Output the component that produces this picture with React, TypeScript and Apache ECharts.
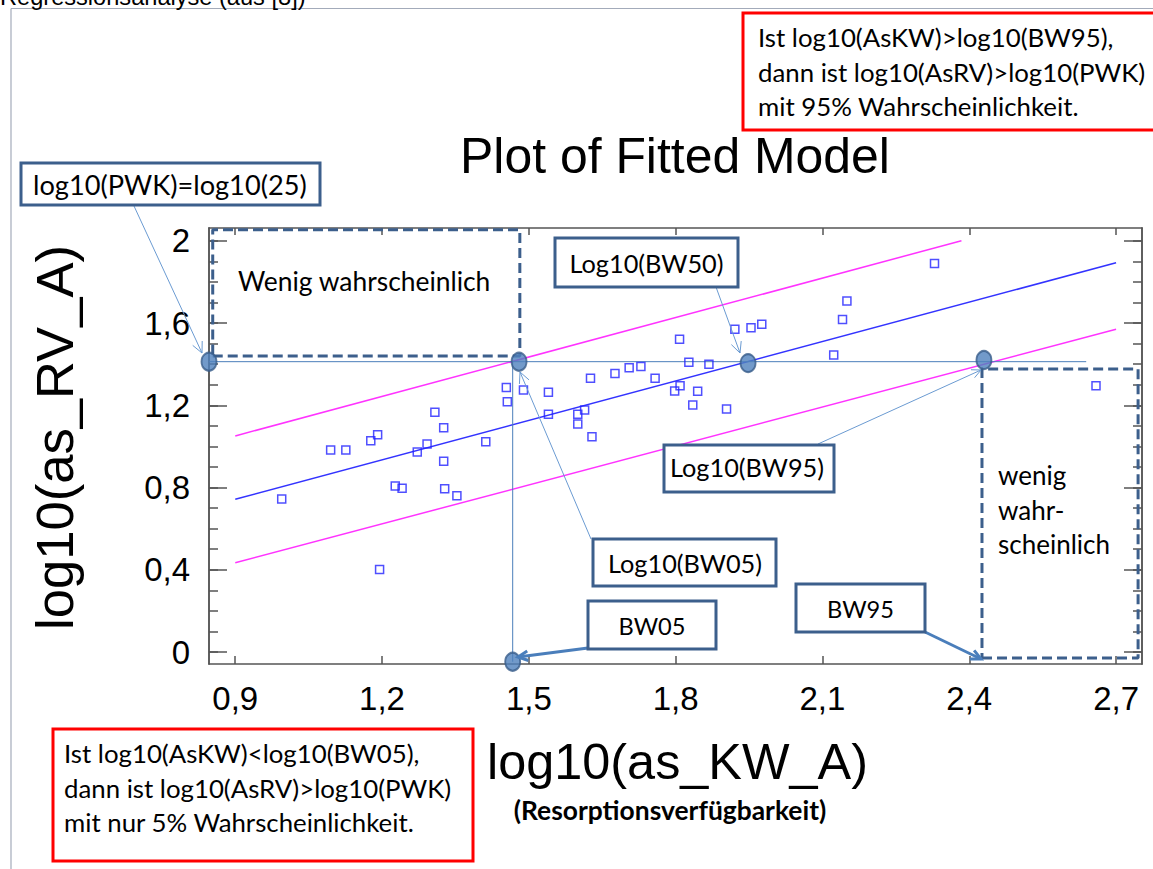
import React, { useEffect, useRef } from 'react';
import * as echarts from 'echarts';

// ---------- data ----------
const X_TICKS = [0.9, 1.2, 1.5, 1.8, 2.1, 2.4, 2.7];
const Y_MAJOR = [0, 0.4, 0.8, 1.2, 1.6, 2.0];
const Y_MINOR = [0, 0.1, 0.2, 0.3, 0.4, 0.5, 0.6, 0.7, 0.8, 0.9, 1.0, 1.1, 1.2, 1.3, 1.4, 1.5, 1.6, 1.7, 1.8, 1.9, 2.0];

const OBS_X = [0.995, 1.095, 1.126, 1.177, 1.191, 1.195, 1.227, 1.241, 1.272, 1.292, 1.308, 1.326, 1.326, 1.328, 1.353, 1.412,
  1.454, 1.489, 1.456, 1.54, 1.54, 1.6, 1.614, 1.6, 1.629, 1.626, 1.676, 1.705, 1.729, 1.758, 1.808, 1.827, 1.868, 1.809, 1.798,
  1.845, 1.835, 1.904, 1.921, 1.954, 1.976, 2.15, 2.141, 2.123, 2.329, 2.659];
const OBS_Y = [0.744, 0.982, 0.982, 1.028, 1.057, 0.402, 0.807, 0.796, 0.973, 1.012, 1.166, 1.091, 0.928, 0.794, 0.76, 1.023,
  1.286, 1.274, 1.217, 1.263, 1.156, 1.156, 1.177, 1.109, 1.047, 1.331, 1.354, 1.383, 1.388, 1.331, 1.521, 1.409, 1.399, 1.295, 1.269,
  1.268, 1.201, 1.182, 1.57, 1.577, 1.594, 1.707, 1.617, 1.445, 1.889, 1.295];

const FIT_X = [0.9, 2.7];
const FIT_Y = [0.743, 1.893];
const UPPER_X = [0.9, 2.384];
const UPPER_Y = [1.051, 2.0];
const LOWER_X = [0.9, 2.7];
const LOWER_Y = [0.434, 1.57];

const PWK_Y = 1.412; // log10(25)
const PWK_X = [0.8464, 2.639];
const BW05_VERT_X = 1.467;
const BW05_VERT_Y = [1.412, -0.047];

const KEY_X = [0.8464, 1.48, 1.948, 2.43, 1.467];
const KEY_Y = [1.412, 1.412, 1.405, 1.42, -0.047];

const UL_BOX_X = [0.854, 1.4816];
const UL_BOX_Y = [1.44, 2.053];
const LR_BOX_X = [2.426, 2.745];
const LR_BOX_Y = [-0.029, 1.376];

const X_MIN = 0.8464, X_MAX = 2.753, Y_MIN = -0.058, Y_MAX = 2.062;

// ---------- styles ----------
const ARIAL = '"Liberation Sans", Arial, sans-serif';
const CAL = 'Lato, "Noto Sans", sans-serif';
const FRAME = '#555555';
const BORDER = '#3c5f8c';
const THIN = '#6b9bd2';
const THICK = '#4a7ebb';

function fit(text: string, weight: string, family: string, target: number) {
  const c = document.createElement('canvas').getContext('2d');
  if (!c) return 20;
  c.font = `${weight} 100px ${family}`;
  const w = c.measureText(text).width || 1;
  return Math.round((100 * target / w) * 10) / 10;
}

function arrow(x1: number, y1: number, x2: number, y2: number, color: string, width: number, head: number) {
  const a = Math.atan2(y2 - y1, x2 - x1);
  const p1 = [x2 - head * Math.cos(a - 0.45), y2 - head * Math.sin(a - 0.45)];
  const p2 = [x2 - head * Math.cos(a + 0.45), y2 - head * Math.sin(a + 0.45)];
  return [
    { type: 'line', z: 90, shape: { x1, y1, x2, y2 }, style: { stroke: color, lineWidth: width } },
    { type: 'polyline', z: 90, shape: { points: [p1, [x2, y2], p2] }, style: { stroke: color, lineWidth: width, fill: null } },
  ];
}

function boxRect(x: number, y: number, w: number, h: number, stroke: string) {
  return { type: 'rect', z: 95, shape: { x, y, width: w, height: h }, style: { fill: '#ffffff', stroke, lineWidth: 3 } };
}

function txt(text: string, x: number, y: number, size: number, family: string, align: string, weight = 'normal', extra: any = {}) {
  return {
    type: 'text', z: 100, x, y, ...extra,
    style: { text, fontSize: size, fontFamily: family, fontWeight: weight, fill: '#000000', align, verticalAlign: 'middle' },
  };
}

function boxPath(xs: number[], ys: number[]) {
  return [[xs[0], ys[0]], [xs[1], ys[0]], [xs[1], ys[1]], [xs[0], ys[1]], [xs[0], ys[0]]];
}

const fmt = (v: number) => (Math.abs(v) < 1e-9 ? '0' : Number.isInteger(Math.round(v * 10) / 10) && Math.abs(v - Math.round(v)) < 1e-9 ? String(Math.round(v)) : v.toFixed(1).replace('.', ','));

export default function App() {
  const ref = useRef<HTMLDivElement>(null);
  useEffect(() => {
    if (!ref.current) return;
    const chart = echarts.init(ref.current, null, { renderer: 'svg' });

    const sTitle = fit('Plot of Fitted Model', 'normal', ARIAL, 430);
    const sXT = fit('log10(as_KW_A)', 'normal', ARIAL, 381);
    const sYT = fit('log10(as_RV_A)', 'normal', ARIAL, 385);
    const sTop = fit('Regressionsanalyse (aus [8])', 'normal', ARIAL, 305);
    const sRed = fit('dann ist log10(AsRV)>log10(PWK)', 'normal', CAL, 388);
    const sRes = fit('(Resorptionsverfügbarkeit)', '700', CAL, 312);
    const sPWK = fit('log10(PWK)=log10(25)', 'normal', CAL, 274);
    const sWenig = fit('Wenig wahrscheinlich', 'normal', CAL, 253);
    const sBW = fit('Log10(BW50)', 'normal', CAL, 154);
    const sBWs = fit('BW05', 'normal', CAL, 67);
    const sSch = fit('scheinlich', 'normal', CAL, 112);

    const graphic: any[] = [
      // page frame
      { type: 'line', z: 1, shape: { x1: 11, y1: 8.5, x2: 1153, y2: 8.5 }, style: { stroke: '#a3abba', lineWidth: 1.2 } },
      { type: 'line', z: 1, shape: { x1: 11, y1: 8.5, x2: 11, y2: 869 }, style: { stroke: '#a3abba', lineWidth: 1.2 } },
      txt('Regressionsanalyse (aus [8])', 0, -3, sTop, ARIAL, 'left'),
      txt('Plot of Fitted Model', 675, 156, sTitle, ARIAL, 'center'),
      txt('log10(as_KW_A)', 677.5, 761, sXT, ARIAL, 'center'),
      txt('log10(as_RV_A)', 54, 437.5, sYT, ARIAL, 'center', 'normal', { rotation: Math.PI / 2 }),
      txt('(Resorptionsverfügbarkeit)', 670, 810, sRes, CAL, 'center', '700'),
      // red boxes
      boxRect(743, 13, 430, 117, '#ff0000'),
      txt('Ist log10(AsKW)>log10(BW95),', 758, 37, sRed, CAL, 'left'),
      txt('dann ist log10(AsRV)>log10(PWK)', 758, 71.5, sRed, CAL, 'left'),
      txt('mit 95% Wahrscheinlichkeit.', 758, 105.5, sRed, CAL, 'left'),
      boxRect(53, 729, 420, 132, '#ff0000'),
      txt('Ist log10(AsKW)<log10(BW05),', 64, 753, sRed, CAL, 'left'),
      txt('dann ist log10(AsRV)>log10(PWK)', 64, 787.5, sRed, CAL, 'left'),
      txt('mit nur 5% Wahrscheinlichkeit.', 64, 822, sRed, CAL, 'left'),
      // connectors
      ...arrow(134, 206, 202, 353, THIN, 1, 12),
      ...arrow(716, 287, 740, 353, THIN, 1, 12),
      ...arrow(818, 444, 981, 370, THIN, 1, 10),
      ...arrow(591, 539, 520, 372, THIN, 1, 12),
      ...arrow(588, 648, 518, 657, THICK, 3, 11),
      ...arrow(925, 632, 981, 659, THICK, 3, 11),
      // annotation boxes
      boxRect(21, 163, 299, 42, BORDER),
      txt('log10(PWK)=log10(25)', 33, 184, sPWK, CAL, 'left'),
      boxRect(555, 238, 183, 49, BORDER),
      txt('Log10(BW50)', 646.5, 262.5, sBW, CAL, 'center'),
      boxRect(664, 445, 170, 47, BORDER),
      txt('Log10(BW95)', 747, 467, sBW, CAL, 'center'),
      boxRect(593, 539, 183, 47, BORDER),
      txt('Log10(BW05)', 685, 563, sBW, CAL, 'center'),
      boxRect(588, 601, 128, 48, BORDER),
      txt('BW05', 652, 626, sBWs, CAL, 'center'),
      boxRect(796, 584, 129, 48, BORDER),
      txt('BW95', 860.5, 609, sBWs, CAL, 'center'),
      // region labels
      txt('Wenig wahrscheinlich', 238, 281, sWenig, CAL, 'left'),
      txt('wenig', 998, 475, sSch, CAL, 'left'),
      txt('wahr-', 998, 510, sSch, CAL, 'left'),
      txt('scheinlich', 998, 543.5, sSch, CAL, 'left'),
    ];

    const axisCommon = { type: 'value', min: X_MIN, max: X_MAX, splitLine: { show: false } };
    const yCommon = { type: 'value', min: Y_MIN, max: Y_MAX, splitLine: { show: false } };
    const line = { show: true, onZero: false, lineStyle: { color: FRAME, width: 1.5 } };

    const option: any = {
      animation: false,
      backgroundColor: '#ffffff',
      grid: { left: 209, right: 11, top: 228, bottom: 205, containLabel: false },
      xAxis: [
        {
          ...axisCommon, position: 'bottom', axisLine: line,
          axisTick: { show: true, inside: true, length: 8, customValues: X_TICKS, lineStyle: { color: FRAME, width: 1.5 } },
          axisLabel: { show: true, customValues: X_TICKS, formatter: (v: number) => fmt(v), fontSize: 33, fontFamily: ARIAL, color: '#000', margin: 18 },
        },
        {
          ...axisCommon, position: 'top', axisLine: line,
          axisTick: { show: true, inside: true, length: 7, customValues: X_TICKS, lineStyle: { color: FRAME, width: 1.5 } },
          axisLabel: { show: false },
        },
      ],
      yAxis: [
        {
          ...yCommon, position: 'left', axisLine: line,
          axisTick: { show: true, inside: true, length: 18, customValues: Y_MAJOR, lineStyle: { color: FRAME, width: 1.5 } },
          axisLabel: { show: true, customValues: Y_MAJOR, formatter: (v: number) => fmt(v), fontSize: 33, fontFamily: ARIAL, color: '#000', margin: 19 },
        },
        {
          ...yCommon, position: 'left', axisLine: line,
          axisTick: { show: true, inside: true, length: 9, customValues: Y_MINOR, lineStyle: { color: FRAME, width: 1.5 } },
          axisLabel: { show: false },
        },
        {
          ...yCommon, position: 'right', axisLine: line,
          axisTick: { show: true, inside: true, length: 18, customValues: Y_MAJOR, lineStyle: { color: FRAME, width: 1.5 } },
          axisLabel: { show: false },
        },
        {
          ...yCommon, position: 'right', axisLine: line,
          axisTick: { show: true, inside: true, length: 9, customValues: Y_MINOR, lineStyle: { color: FRAME, width: 1.5 } },
          axisLabel: { show: false },
        },
      ],
      series: [
        {
          name: 'Prediction upper', type: 'line', symbol: 'none', z: 3,
          data: UPPER_X.map((x, i) => [x, UPPER_Y[i]]), lineStyle: { color: '#ff33ff', width: 1.5 },
        },
        {
          name: 'Prediction lower', type: 'line', symbol: 'none', z: 3,
          data: LOWER_X.map((x, i) => [x, LOWER_Y[i]]), lineStyle: { color: '#ff33ff', width: 1.5 },
        },
        {
          name: 'Fitted', type: 'line', symbol: 'none', z: 3,
          data: FIT_X.map((x, i) => [x, FIT_Y[i]]), lineStyle: { color: '#3333ff', width: 1.5 },
        },
        {
          name: 'PWK', type: 'line', symbol: 'none', z: 3,
          data: PWK_X.map((x) => [x, PWK_Y]), lineStyle: { color: '#4a7ebb', width: 1 },
        },
        {
          name: 'BW05 vertical', type: 'line', symbol: 'none', z: 3,
          data: BW05_VERT_Y.map((y) => [BW05_VERT_X, y]), lineStyle: { color: '#4a7ebb', width: 1 },
        },
        {
          name: 'Observations', type: 'scatter', z: 4, symbol: 'rect', symbolSize: 8,
          data: OBS_X.map((x, i) => [x, OBS_Y[i]]),
          itemStyle: { color: 'rgba(0,0,0,0)', borderColor: '#2323ff', borderWidth: 1.5 },
        },
        {
          name: 'Region upper-left', type: 'line', symbol: 'none', z: 5,
          data: boxPath(UL_BOX_X, UL_BOX_Y), lineStyle: { color: BORDER, width: 3, type: [10, 5] },
        },
        {
          name: 'Region lower-right', type: 'line', symbol: 'none', z: 5,
          data: boxPath(LR_BOX_X, LR_BOX_Y), lineStyle: { color: BORDER, width: 3, type: [10, 5] },
        },
        {
          name: 'Key points', type: 'scatter', z: 6, clip: false, symbol: 'circle', symbolSize: [15, 18],
          data: KEY_X.map((x, i) => [x, KEY_Y[i]]),
          itemStyle: { color: '#4f81bd', borderColor: '#385d8a', borderWidth: 2 },
        },
      ],
      graphic,
    };
    chart.setOption(option);
    return () => chart.dispose();
  }, []);
  return <div ref={ref} style={{ position: 'fixed', left: 0, top: 0, width: 1153, height: 869, background: '#fff' }} />;
}
